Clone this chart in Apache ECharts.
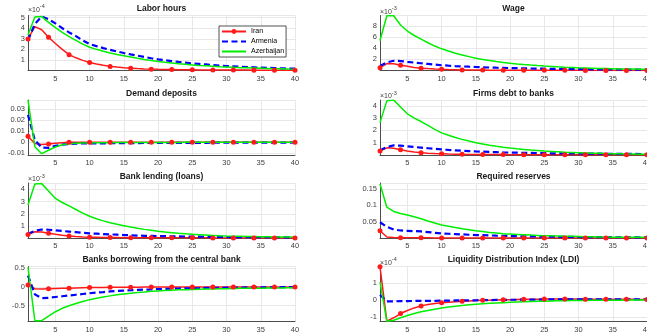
<!DOCTYPE html>
<html><head><meta charset="utf-8">
<script src="https://cdn.jsdelivr.net/npm/echarts@6/dist/echarts.min.js"></script>
<style>html,body{margin:0;padding:0;background:#fff}#c{width:647px;height:335px}</style>
</head><body><div id="c"></div>
<script>
const periods = [1,2,3,4,5,6,7,8,9,10,11,12,13,14,15,16,17,18,19,20,21,22,23,24,25,26,27,28,29,30,31,32,33,34,35,36,37,38,39,40];
const seriesNames = ['Iran', 'Armenia', 'Azerbaijan'];

// Labor hours (x 1e-4)
const laborIran = [2.99,4.15,3.85,3.14,2.55,2.0,1.5,1.2,0.96,0.76,0.61,0.49,0.39,0.32,0.26,0.22,0.18,0.15,0.13,0.11,0.095,0.085,0.075,0.068,0.062,0.057,0.052,0.048,0.045,0.042,0.04,0.038,0.036,0.034,0.032,0.03,0.028,0.026,0.024,0.022];
const laborArmenia = [2.86,4.4,5.1,4.85,4.45,4.0,3.6,3.25,2.85,2.5,2.3,2.12,1.95,1.8,1.65,1.52,1.4,1.28,1.16,1.05,0.97,0.89,0.81,0.74,0.67,0.62,0.57,0.52,0.47,0.42,0.39,0.36,0.33,0.3,0.27,0.25,0.23,0.21,0.19,0.17];
const laborAzerbaijan = [3.35,5.05,5.1,4.55,4.05,3.6,3.2,2.85,2.5,2.2,2.0,1.82,1.66,1.52,1.4,1.28,1.16,1.05,0.95,0.86,0.78,0.71,0.64,0.58,0.53,0.48,0.44,0.4,0.36,0.33,0.3,0.27,0.25,0.23,0.21,0.19,0.17,0.16,0.14,0.13];

// Wage (x 1e-3)
const wageIran = [0.5,1.25,1.2,0.95,0.75,0.55,0.42,0.34,0.27,0.21,0.17,0.14,0.11,0.09,0.08,0.07,0.06,0.055,0.05,0.045,0.04,0.04,0.035,0.035,0.03,0.03,0.03,0.025,0.025,0.025,0.02,0.02,0.02,0.02,0.02,0.015,0.015,0.015,0.015,0.015];
const wageArmenia = [0.8,1.45,1.75,1.7,1.55,1.42,1.3,1.18,1.06,0.95,0.87,0.8,0.74,0.68,0.63,0.58,0.54,0.5,0.47,0.44,0.41,0.38,0.36,0.34,0.32,0.3,0.28,0.27,0.25,0.24,0.23,0.22,0.21,0.2,0.19,0.18,0.17,0.16,0.16,0.15];
const wageAzerbaijan = [5.4,9.85,9.85,8.2,7.1,6.3,5.65,5.0,4.4,3.9,3.5,3.1,2.8,2.5,2.2,2.0,1.8,1.6,1.45,1.3,1.18,1.07,0.97,0.88,0.8,0.73,0.66,0.6,0.55,0.5,0.46,0.42,0.38,0.35,0.32,0.29,0.27,0.25,0.23,0.21];

// Demand deposits
const depositsIran = [0.0055,-0.001,-0.0019,-0.0015,-0.0008,-0.0003,0.0002,0.0002,0.0002,0.0002,0.00015,0.00015,0.0001,0.0001,0.0001,0.0001,0.0001,0.00005,0.00005,0.00005,0.00005,0.00005,0.00005,0.00005,0.00005,0,0,0,0,0,0,0,0,0,0,0,0,0,0,0];
const depositsArmenia = [0.025,0.002,-0.0048,-0.005,-0.0032,-0.0021,-0.0015,-0.0012,-0.001,-0.001,-0.0009,-0.0009,-0.0008,-0.0008,-0.0008,-0.0007,-0.0007,-0.0006,-0.0006,-0.0006,-0.0005,-0.0005,-0.0005,-0.0004,-0.0004,-0.0004,-0.0004,-0.0003,-0.0003,-0.0003,-0.0003,-0.0003,-0.0002,-0.0002,-0.0002,-0.0002,-0.0002,-0.0002,-0.0002,-0.0001];
const depositsAzerbaijan = [0.0385,-0.004,-0.0103,-0.0072,-0.0042,-0.0022,-0.0012,-0.0008,-0.0006,-0.0005,-0.0004,-0.0003,-0.0003,-0.0002,-0.0002,-0.0002,-0.0001,-0.0001,-0.0001,-0.0001,-0.0001,-0.0001,-0.0001,0,0,0,0,0,0,0,0,0,0,0,0,0,0,0,0,0];

// Firms debt to banks (x 1e-3)
const debtIran = [0.32,0.58,0.55,0.42,0.33,0.25,0.19,0.15,0.12,0.1,0.08,0.065,0.055,0.05,0.045,0.04,0.038,0.035,0.033,0.03,0.028,0.026,0.025,0.024,0.023,0.022,0.021,0.02,0.02,0.019,0.018,0.018,0.017,0.017,0.016,0.016,0.015,0.015,0.015,0.014];
const debtArmenia = [0.38,0.65,0.78,0.76,0.7,0.65,0.6,0.55,0.5,0.45,0.41,0.38,0.35,0.32,0.29,0.27,0.25,0.23,0.21,0.2,0.19,0.18,0.17,0.16,0.15,0.14,0.135,0.13,0.125,0.12,0.115,0.11,0.105,0.1,0.095,0.09,0.09,0.085,0.08,0.08];
const debtAzerbaijan = [2.63,4.4,4.46,3.9,3.35,3.0,2.72,2.4,2.08,1.8,1.6,1.42,1.27,1.13,1.0,0.9,0.8,0.71,0.63,0.56,0.5,0.45,0.4,0.36,0.32,0.29,0.26,0.23,0.21,0.19,0.17,0.15,0.14,0.12,0.11,0.1,0.09,0.08,0.07,0.06];

// Bank lending (loans) (x 1e-3)
const lendingIran = [0.32,0.55,0.52,0.43,0.34,0.26,0.2,0.16,0.13,0.11,0.1,0.09,0.08,0.075,0.07,0.068,0.065,0.063,0.06,0.06,0.058,0.056,0.055,0.054,0.053,0.052,0.051,0.05,0.05,0.05,0.05,0.05,0.05,0.05,0.05,0.05,0.05,0.05,0.05,0.05];
const lendingArmenia = [0.38,0.62,0.73,0.71,0.66,0.61,0.56,0.51,0.46,0.42,0.39,0.36,0.33,0.31,0.28,0.26,0.24,0.22,0.21,0.2,0.19,0.18,0.17,0.16,0.15,0.145,0.14,0.135,0.13,0.12,0.115,0.11,0.11,0.105,0.1,0.1,0.1,0.1,0.095,0.095];
const lendingAzerbaijan = [2.72,4.42,4.45,3.86,3.25,2.92,2.64,2.35,2.06,1.8,1.6,1.43,1.28,1.15,1.04,0.93,0.83,0.74,0.66,0.58,0.52,0.47,0.42,0.38,0.34,0.31,0.28,0.25,0.22,0.2,0.19,0.18,0.17,0.16,0.15,0.14,0.13,0.13,0.12,0.12];

// Required reserves
const reservesIran = [0.022,0.003,0.0012,0.0008,0.0006,0.0005,0.0004,0.0004,0.0003,0.0003,0.0003,0.0002,0.0002,0.0002,0.0002,0.0002,0.0002,0.0001,0.0001,0.0001,0.0001,0.0001,0.0001,0.0001,0.0001,0.0001,0.0001,0.0001,0.0001,0.0001,0.0001,0.0001,0.0001,0.0001,0.0001,0.0001,0.0001,0.0001,0.0001,0.0001];
const reservesArmenia = [0.048,0.034,0.026,0.023,0.022,0.021,0.02,0.018,0.016,0.014,0.013,0.012,0.011,0.01,0.009,0.0085,0.008,0.007,0.0065,0.006,0.0055,0.005,0.0048,0.0045,0.0042,0.004,0.0037,0.0035,0.0032,0.003,0.0028,0.0027,0.0026,0.0025,0.0024,0.0023,0.0022,0.0021,0.002,0.002];
const reservesAzerbaijan = [0.165,0.094,0.081,0.075,0.07,0.065,0.059,0.052,0.046,0.04,0.036,0.032,0.028,0.025,0.022,0.02,0.017,0.015,0.013,0.012,0.011,0.01,0.009,0.008,0.007,0.0065,0.006,0.0055,0.005,0.0045,0.004,0.0035,0.003,0.003,0.0025,0.0025,0.002,0.002,0.002,0.0015];

// Banks borrowing from the central bank
const borrowingIran = [0.05,-0.05,-0.06,-0.05,-0.045,-0.04,-0.035,-0.03,-0.025,-0.02,-0.018,-0.015,-0.013,-0.011,-0.01,-0.009,-0.008,-0.007,-0.006,-0.005,-0.005,-0.004,-0.004,-0.003,-0.003,-0.003,-0.002,-0.002,-0.002,-0.002,-0.001,-0.001,-0.001,-0.001,-0.001,-0.001,-0.001,-0.001,-0.001,-0.001];
const borrowingArmenia = [0.3,-0.2,-0.3,-0.29,-0.27,-0.25,-0.23,-0.21,-0.19,-0.17,-0.15,-0.14,-0.12,-0.11,-0.1,-0.09,-0.08,-0.075,-0.07,-0.06,-0.055,-0.05,-0.045,-0.04,-0.038,-0.035,-0.03,-0.028,-0.025,-0.022,-0.02,-0.018,-0.016,-0.015,-0.013,-0.012,-0.011,-0.01,-0.009,-0.008];
const borrowingAzerbaijan = [0.52,-0.9,-0.9,-0.78,-0.66,-0.57,-0.5,-0.44,-0.39,-0.34,-0.3,-0.27,-0.24,-0.21,-0.19,-0.17,-0.15,-0.14,-0.12,-0.11,-0.1,-0.09,-0.08,-0.075,-0.07,-0.065,-0.06,-0.055,-0.05,-0.05,-0.045,-0.04,-0.04,-0.035,-0.035,-0.03,-0.03,-0.03,-0.025,-0.025];

// Liquidity Distribution Index (LDI) (x 1e-4)
const ldiIran = [1.95,-1.25,-1.05,-0.8,-0.62,-0.47,-0.35,-0.27,-0.21,-0.16,-0.13,-0.1,-0.08,-0.06,-0.04,-0.025,-0.015,-0.005,0.005,0.015,0.025,0.035,0.04,0.045,0.05,0.05,0.05,0.05,0.05,0.05,0.048,0.046,0.044,0.042,0.04,0.038,0.036,0.034,0.032,0.03];
const ldiArmenia = [0.3,-0.08,-0.08,-0.07,-0.07,-0.06,-0.06,-0.05,-0.05,-0.04,-0.04,-0.03,-0.03,-0.02,-0.02,-0.01,-0.01,0,0,0.01,0.01,0.02,0.02,0.02,0.03,0.03,0.03,0.03,0.04,0.04,0.04,0.04,0.04,0.04,0.04,0.04,0.04,0.04,0.04,0.04];
const ldiAzerbaijan = [1.05,-1.25,-1.2,-1.05,-0.92,-0.8,-0.7,-0.62,-0.55,-0.48,-0.42,-0.37,-0.33,-0.29,-0.26,-0.23,-0.2,-0.18,-0.16,-0.14,-0.12,-0.1,-0.09,-0.08,-0.07,-0.06,-0.05,-0.045,-0.04,-0.035,-0.03,-0.025,-0.02,-0.018,-0.015,-0.012,-0.01,-0.008,-0.006,-0.005];

const panelTitles = ['Labor hours','Wage','Demand deposits','Firms debt to banks','Bank lending (loans)','Required reserves','Banks borrowing from the central bank','Liquidity Distribution Index (LDI)'];
const panelExponents = [-4, -3, null, -3, -3, null, null, -4];
const panelData = [
  [laborIran, laborArmenia, laborAzerbaijan],
  [wageIran, wageArmenia, wageAzerbaijan],
  [depositsIran, depositsArmenia, depositsAzerbaijan],
  [debtIran, debtArmenia, debtAzerbaijan],
  [lendingIran, lendingArmenia, lendingAzerbaijan],
  [reservesIran, reservesArmenia, reservesAzerbaijan],
  [borrowingIran, borrowingArmenia, borrowingAzerbaijan],
  [ldiIran, ldiArmenia, ldiAzerbaijan]
];
// y-axis limits and tick step per panel
const yMin = [0, 0, -0.0115, 0, 0.04, 0, -0.92, -1.27];
const yMax = [5.2, 9.9, 0.0385, 4.47, 4.5, 0.168, 0.54, 1.97];
const yStep = [1, 2, 0.01, 1, 1, 0.05, 0.5, 1];
const hideZeroLabel = [true, true, false, true, false, true, false, false];

// ---- layout / styles ----
const FONT = '"Liberation Sans", Arial, Helvetica, sans-serif';
const colLeft = [28, 380];
const rowTop = [15.5, 100, 183, 266.5];
const plotW = 267, plotH = 55;
const lineStyles = [
  {color: '#ff1a1a', width: 1.5, type: 'solid'},
  {color: '#0000ff', width: 2.2, type: [6, 3.5]},
  {color: '#00ee00', width: 1.5, type: 'solid'}
];

function tickFmt(step, hideZero) {
  return function (v) {
    const k = Math.round(v / step);
    if (Math.abs(v - k * step) > step * 1e-4) return '';
    if (k === 0 && hideZero) return '';
    return String(+(k * step).toFixed(6));
  };
}

const grids = [], xAxes = [], yAxes = [], series = [], titles = [];
for (let p = 0; p < 8; p++) {
  const col = p % 2, row = Math.floor(p / 2);
  grids.push({left: colLeft[col], top: rowTop[row], width: plotW, height: plotH, containLabel: false, outerBoundsMode: 'none'});
  titles.push({
    text: panelTitles[p], left: colLeft[col] + plotW / 2, top: rowTop[row] - 11, textAlign: 'center', padding: 0,
    textStyle: {fontSize: 8.5, fontWeight: 'bold', color: '#1a1a1a', fontFamily: FONT}
  });
  xAxes.push({
    type: 'value', gridIndex: p, min: 1, max: 40, minInterval: 5, maxInterval: 5,
    axisLine: {show: true, onZero: false, lineStyle: {color: '#4d4d4d', width: 1}},
    axisTick: {show: false},
    splitLine: {show: true, lineStyle: {color: '#e8e8e8', width: 1}},
    axisLabel: {fontSize: 7.5, color: '#404040', margin: 4, fontFamily: FONT, formatter: tickFmt(5, false), showMinLabel: false, hideOverlap: false}
  });
  const ya = {
    type: 'value', gridIndex: p, min: yMin[p], max: yMax[p], minInterval: yStep[p], maxInterval: yStep[p],
    axisLine: {show: true, lineStyle: {color: '#4d4d4d', width: 1}},
    axisTick: {show: false},
    splitLine: {show: true, lineStyle: {color: '#e8e8e8', width: 1}},
    axisLabel: {fontSize: 7.5, color: '#404040', margin: 3, fontFamily: FONT, formatter: tickFmt(yStep[p], hideZeroLabel[p])}
  };
  if (panelExponents[p] !== null) {
    ya.name = '{a|×10}{b|' + panelExponents[p] + '}';
    ya.nameLocation = 'end';
    ya.nameGap = 0;
    ya.nameTextStyle = {
      align: 'left', verticalAlign: 'bottom', color: '#404040', fontFamily: FONT,
      rich: {
        a: {fontSize: 7, color: '#404040', fontFamily: FONT, lineHeight: 10, verticalAlign: 'bottom'},
        b: {fontSize: 5.5, color: '#404040', fontFamily: FONT, verticalAlign: 'top'}
      }
    };
  }
  yAxes.push(ya);
  for (let s = 0; s < 3; s++) {
    const vals = panelData[p][s];
    series.push({
      name: seriesNames[s], type: 'line', xAxisIndex: p, yAxisIndex: p,
      data: periods.map((t, i) => [t, vals[i]]),
      symbol: s === 0 ? 'circle' : 'none',
      symbolSize: s === 0 ? function (v, prm) { return prm.dataIndex % 3 === 0 ? 5 : 0; } : 0,
      showSymbol: s === 0,
      itemStyle: {color: lineStyles[s].color},
      lineStyle: lineStyles[s],
      smooth: false, animation: false, silent: true
    });
  }
}

const chart = echarts.init(document.getElementById('c'), null, {renderer: 'canvas'});
chart.setOption({
  backgroundColor: '#ffffff',
  animation: false,
  textStyle: {fontFamily: FONT},
  title: titles,
  grid: grids, xAxis: xAxes, yAxis: yAxes, series: series,
  legend: {
    data: [
      {name: seriesNames[0]},
      {name: seriesNames[1], itemStyle: {opacity: 0}},
      {name: seriesNames[2], itemStyle: {opacity: 0}}
    ],
    orient: 'vertical', left: 219, top: 26,
    backgroundColor: '#ffffff', borderColor: '#262626', borderWidth: 0.8, borderRadius: 0,
    padding: [2, 2, 2, 2], itemWidth: 24, itemHeight: 6, itemGap: 3,
    textStyle: {fontSize: 7, color: '#000', fontFamily: FONT},
    selectedMode: false
  }
});
</script>
</body></html>
